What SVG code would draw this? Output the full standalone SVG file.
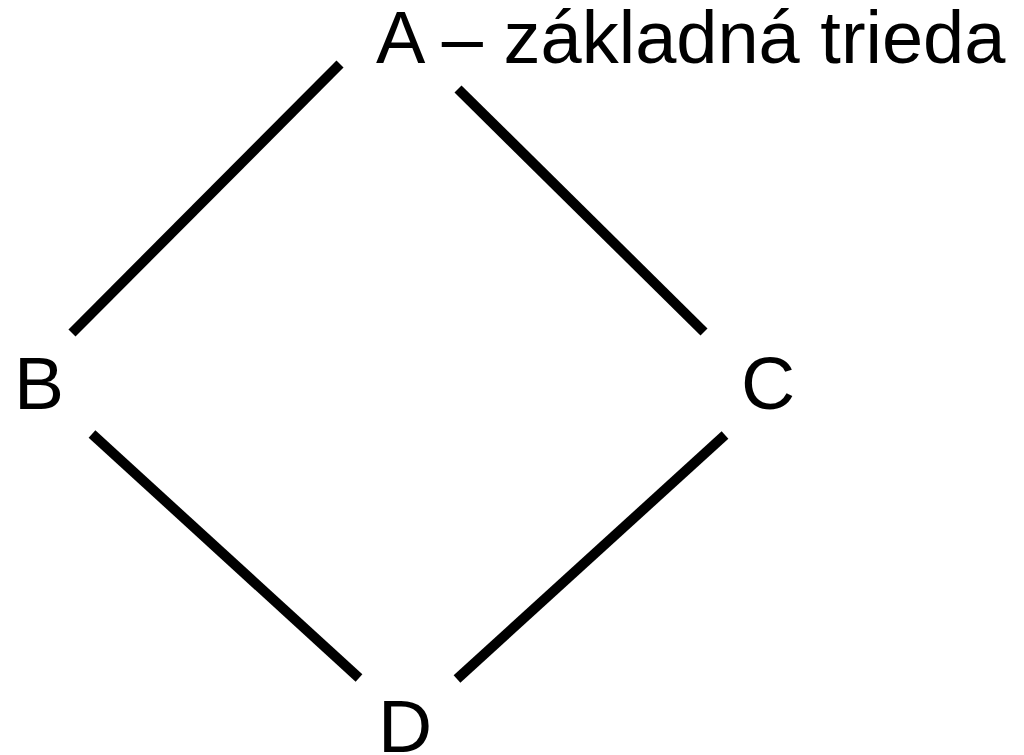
<svg xmlns="http://www.w3.org/2000/svg" width="1024" height="755" viewBox="0 0 1024 755">
  <style>
    .label { font-family: "Liberation Sans", Arial, sans-serif; font-size: 75px; fill: #000; }
    .title { font-size: 74px; }
    .edge { stroke: #000; stroke-width: 10; stroke-linecap: butt; fill: none; }
  </style>
  <rect width="1024" height="755" fill="#fff"/>
  <!-- inheritance diamond: A at top, B and C in the middle, D at bottom -->
  <g id="connectors">
    <line class="edge" x1="340" y1="64" x2="72" y2="333"/>
    <line class="edge" x1="458" y1="89" x2="704" y2="332"/>
    <line class="edge" x1="92" y1="434" x2="359" y2="678"/>
    <line class="edge" x1="725" y1="435" x2="457" y2="679"/>
  </g>
  <g id="node-a">
    <text class="label title" x="376" y="63">A – základná trieda</text>
  </g>
  <g id="node-b">
    <text class="label" x="14" y="409">B</text>
  </g>
  <g id="node-c">
    <text class="label" x="741" y="409">C</text>
  </g>
  <g id="node-d">
    <text class="label" x="378" y="752">D</text>
  </g>
</svg>
